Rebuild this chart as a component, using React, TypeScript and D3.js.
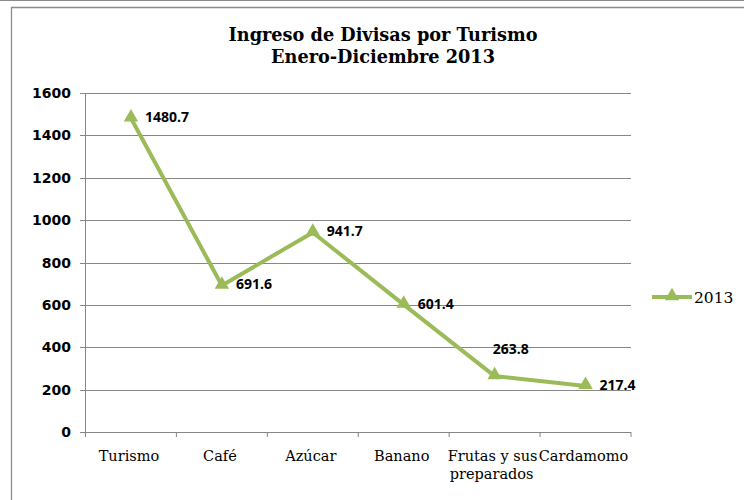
import React from "react";
import * as d3 from "d3";

const categories = ["Turismo", "Café", "Azúcar", "Banano", "Frutas y sus\npreparados", "Cardamomo"];
const values2013 = [1480.7, 691.6, 941.7, 601.4, 263.8, 217.4];
const yTicks = [0, 200, 400, 600, 800, 1000, 1200, 1400, 1600];
const seriesName = "2013";
const titleLines = ["Ingreso de Divisas por Turismo", "Enero-Diciembre 2013"];

const W = 744;
const H = 500;
const left = 85.5;
const right = 631;
const top = 93;
const bottom = 432;
const green = "#9BBB59";
const grid = "#878787";

export default function App() {
  const x = d3.scaleBand<number>().domain(d3.range(categories.length)).range([left, right]);
  const y = d3.scaleLinear().domain([0, 1600]).range([bottom, top]);
  const cx = (i: number) => (x(i) as number) + x.bandwidth() / 2;
  const line = d3.line<number>().x((_, i) => cx(i)).y((d) => y(d));
  const tri = d3.symbol().type(d3.symbolTriangle).size(90);
  const labelPos = (i: number) =>
    i === 4 ? { dx: -2, dy: -22 } : { dx: 14, dy: 4 };

  return (
    <svg width={W} height={H} style={{ position: "absolute", left: 0, top: 0, background: "#fff" }}>
      <line x1={0} x2={W} y1={0.5} y2={0.5} stroke="#8c8c8c" />
      <path d={`M${W},7.5 H11.5 V${H}`} fill="none" stroke="#8c8c8c" strokeWidth={1.3} />
      {titleLines.map((t, i) => (
        <text key={i} x={383} y={41 + i * 22} textAnchor="middle"
          fontFamily="DejaVu Serif" fontWeight="bold" fontSize={17.7} fill="#000">{t}</text>
      ))}
      {yTicks.map((t) => (
        <g key={t}>
          <line x1={80} x2={right} y1={Math.round(y(t)) + 0.5} y2={Math.round(y(t)) + 0.5} stroke={grid} />
          <text x={71} y={y(t) + 5} textAnchor="end" fontFamily="DejaVu Sans" fontWeight="bold" fontSize={14} fill="#000">{t}</text>
        </g>
      ))}
      <line x1={left} x2={left} y1={top} y2={bottom + 4} stroke={grid} />
      {d3.range(categories.length + 1).map((i) => {
        const xx = i < categories.length ? (x(i) as number) : right;
        return <line key={i} x1={xx} x2={xx} y1={bottom} y2={bottom + 5} stroke={grid} />;
      })}
      {categories.map((c, i) => (
        <text key={c} x={cx(i)} y={461} textAnchor="middle" fontFamily="DejaVu Serif" fontSize={14.5} fill="#000">
          {c.split("\n").map((s, j) => (
            <tspan key={j} x={cx(i) + (j === 1 ? -3 : -2)} dy={j === 0 ? 0 : 18}>{s}</tspan>
          ))}
        </text>
      ))}
      <path d={line(values2013) || ""} fill="none" stroke={green} strokeWidth={4} strokeLinejoin="round" />
      {values2013.map((v, i) => (
        <path key={i} d={tri() || ""} transform={`translate(${cx(i)},${y(v) - 1})`} fill={green} />
      ))}
      {values2013.map((v, i) => {
        const p = labelPos(i);
        return (
          <text key={i} x={cx(i) + p.dx} y={y(v) + p.dy} fontFamily="Open Sans" fontWeight="bold" fontSize={14} fill="#000">{v.toFixed(1)}</text>
        );
      })}
      <line x1={652} x2={692} y1={297} y2={297} stroke={green} strokeWidth={4} />
      <path d={tri() || ""} transform="translate(672,296)" fill={green} />
      <text x={694} y={303} fontFamily="DejaVu Serif" fontSize={15.5} fill="#000">{seriesName}</text>
    </svg>
  );
}
